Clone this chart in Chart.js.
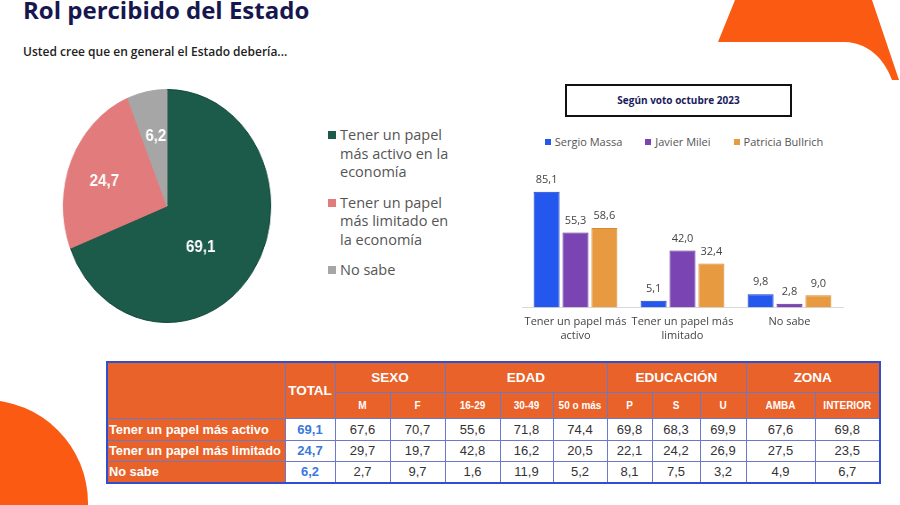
<!DOCTYPE html>
<html lang="es">
<head>
<meta charset="utf-8">
<title>Rol percibido del Estado</title>
<script src="https://cdn.jsdelivr.net/npm/chart.js@4.4.1/dist/chart.umd.min.js"></script>
<style>
  html, body { margin: 0; padding: 0; background: #fff; }
  body { width: 900px; height: 505px; position: relative; overflow: hidden; font-family: "Open Sans", sans-serif; }
  .deco { position: absolute; left: 0; top: 0; }
  h1 { position: absolute; left: 23px; top: -2px; margin: 0; font-size: 24px; line-height: 24px; font-weight: 700; color: #17174f; }
  .sub { position: absolute; left: 23px; top: 46px; font-size: 12px; line-height: 12px; font-weight: 600; color: #222; }
  #pieWrap { position: absolute; left: 50px; top: 89px; width: 234px; height: 234px; transform: scaleX(0.89); }
  #pieLegend { position: absolute; left: 328px; top: 126px; font-size: 14.5px; line-height: 18.5px; color: #555; }
  #pieLegend .item { position: relative; padding-left: 12px; margin-bottom: 12px; }
  #pieLegend .mark { position: absolute; left: 0; top: 5px; width: 8px; height: 8px; }
  .boxTitle { position: absolute; left: 565px; top: 84px; width: 227px; height: 33px; box-sizing: border-box; border: 2px solid #111;
    font-size: 10px; font-weight: 700; color: #1b1b5e; text-align: center; line-height: 29px; }
  #barLegend { position: absolute; left: 500px; top: 134px; width: 368px; display: flex; justify-content: center; gap: 23px;
    font-size: 11px; line-height: 16px; color: #555; }
  #barLegend .mark { display: inline-block; width: 6px; height: 6px; margin-right: 4px; vertical-align: 1px; }
  #barWrap { position: absolute; left: 500px; top: 158px; width: 365px; height: 192px; }
  #tbl { position: absolute; left: 106px; top: 361px; border-collapse: collapse; table-layout: fixed; border: 2px solid #2f4fd0;
    font-family: "Liberation Sans", Arial, sans-serif; }
  #tbl th, #tbl td { border: 1px solid #6a78c6; padding: 0; text-align: center; white-space: nowrap; overflow: hidden; }
  #tbl th { background: #e8622a; color: #fff; font-weight: 700; }
  #tbl th.grp { font-size: 13.5px; }
  #tbl th.sub2 { font-size: 10px; }
  #tbl td { font-size: 13px; color: #333; background: #fff; }
  #tbl td.rowLabel { background: #e8622a; color: #fff; font-weight: 700; font-size: 12.8px; text-align: left; padding-left: 1px; }
  #tbl td.total { color: #3a78dc; font-weight: 700; }
</style>
</head>
<body>

<svg class="deco" width="900" height="505">
  <path d="M718,42 L735,0 L872,0 L899,80 L892,80 C884,58 868,43 845,42 Z" fill="#fa5a12"/>
  <circle cx="-15" cy="503" r="103" fill="#fa5a12"/>
</svg>

<h1>Rol percibido del Estado</h1>
<div class="sub">Usted cree que en general el Estado debería...</div>

<div id="pieWrap"><canvas id="pieChart"></canvas></div>
<div id="pieLegend"></div>

<div class="boxTitle">Según voto octubre 2023</div>
<div id="barLegend"></div>
<div id="barWrap"><canvas id="barChart"></canvas></div>

<table id="tbl"></table>

<script>
// Pie data
const pieLabels = [
  ['Tener un papel', 'más activo en la', 'economía'],
  ['Tener un papel', 'más limitado en', 'la economía'],
  ['No sabe']
];
const pieValues = [69.1, 24.7, 6.2];
const pieColors = ['#1c5a4a', '#e27b7b', '#a6a6a6'];

// Bar data (según voto octubre 2023)
const voteCategories = [['Tener un papel más', 'activo'], ['Tener un papel más', 'limitado'], 'No sabe'];
const massaValues = [85.1, 5.1, 9.8];
const mileiValues = [55.3, 42.0, 2.8];
const bullrichValues = [58.6, 32.4, 9.0];

// Table data
const tableRows = ['Tener un papel más activo', 'Tener un papel más limitado', 'No sabe'];
const tableGroups = ['SEXO', 'EDAD', 'EDUCACIÓN', 'ZONA'];
const groupSpans = [2, 3, 3, 2];
const tableCols = ['M', 'F', '16-29', '30-49', '50 o más', 'P', 'S', 'U', 'AMBA', 'INTERIOR'];
const totalCol = [69.1, 24.7, 6.2];
const activoRow = [67.6, 70.7, 55.6, 71.8, 74.4, 69.8, 68.3, 69.9, 67.6, 69.8];
const limitadoRow = [29.7, 19.7, 42.8, 16.2, 20.5, 22.1, 24.2, 26.9, 27.5, 23.5];
const noSabeRow = [2.7, 9.7, 1.6, 11.9, 5.2, 8.1, 7.5, 3.2, 4.9, 6.7];

// Comma decimals like the original
function fmt(v) {
  return v.toFixed(1).replace('.', ',');
}

Chart.defaults.font.family = "'Open Sans', sans-serif";
Chart.defaults.animation = false;

// White value labels inside the slices
const pieValueLabels = {
  id: 'pieValueLabels',
  afterDatasetsDraw(chart, args, opts) {
    const ctx = chart.ctx;
    const meta = chart.getDatasetMeta(0);
    ctx.save();
    ctx.font = opts.font;
    ctx.fillStyle = '#fff';
    ctx.textAlign = 'center';
    ctx.textBaseline = 'middle';
    meta.data.forEach((arc, i) => {
      const p = arc.getProps(['x', 'y', 'startAngle', 'endAngle', 'outerRadius'], true);
      const mid = (p.startAngle + p.endAngle) / 2 + (opts.shift[i] || 0) * Math.PI / 180;
      const r = p.outerRadius * opts.dist[i];
      ctx.fillText(fmt(chart.data.datasets[0].data[i]), p.x + Math.cos(mid) * r, p.y + Math.sin(mid) * r);
    });
    ctx.restore();
  }
};

// Value labels over the bars
const barValueLabels = {
  id: 'barValueLabels',
  afterDatasetsDraw(chart) {
    const ctx = chart.ctx;
    ctx.save();
    ctx.font = "11px 'Open Sans'";
    ctx.fillStyle = '#444';
    ctx.textAlign = 'center';
    ctx.textBaseline = 'middle';
    chart.data.datasets.forEach((ds, di) => {
      chart.getDatasetMeta(di).data.forEach((bar, i) => {
        ctx.fillText(fmt(ds.data[i]), bar.x, bar.y - 12);
      });
    });
    ctx.restore();
  }
};

new Chart(document.getElementById('pieChart'), {
  type: 'pie',
  data: {
    labels: pieLabels.map(l => l.join(' ')),
    datasets: [{
      data: pieValues,
      backgroundColor: pieColors,
      borderColor: ['#12463a', '#e27b7b', '#a6a6a6'],
      borderWidth: 1
    }]
  },
  options: {
    responsive: true,
    maintainAspectRatio: false,
    plugins: {
      legend: { display: false },
      tooltip: { enabled: false },
      pieValueLabels: { font: "bold 17px 'Liberation Sans'", dist: [0.48, 0.64, 0.61], shift: [13, -4, 1] }
    }
  },
  plugins: [pieValueLabels]
});

// HTML legend for the pie (multi-line items)
const pieLegend = document.getElementById('pieLegend');
pieLabels.forEach((lines, i) => {
  const div = document.createElement('div');
  div.className = 'item';
  div.innerHTML = `<span class="mark" style="background:${pieColors[i]}"></span>${lines.join('<br>')}`;
  pieLegend.appendChild(div);
});

const barChart = new Chart(document.getElementById('barChart'), {
  type: 'bar',
  data: {
    labels: voteCategories,
    datasets: [
      { label: 'Sergio Massa', data: massaValues, backgroundColor: '#2457ee', borderColor: '#1a3cc0', borderWidth: 1 },
      { label: 'Javier Milei', data: mileiValues, backgroundColor: '#7a45b2', borderColor: '#5a2a92', borderWidth: 1 },
      { label: 'Patricia Bullrich', data: bullrichValues, backgroundColor: '#e89a40', borderColor: '#d8882e', borderWidth: 1 }
    ]
  },
  options: {
    responsive: true,
    maintainAspectRatio: false,
    datasets: { bar: { categoryPercentage: 0.81, barPercentage: 0.9 } },
    layout: { padding: { left: 22, right: 22, top: 0 } },
    plugins: {
      legend: { display: false },
      tooltip: { enabled: false }
    },
    scales: {
      x: {
        grid: { display: false, drawTicks: false },
        border: { color: '#d9d9d9' },
        ticks: { padding: 8, color: '#444', font: { size: 11 }, maxRotation: 0, minRotation: 0, autoSkip: false }
      },
      y: { display: false, min: 0, max: 110 }
    }
  },
  plugins: [barValueLabels]
});

// Legend for the bars, one row like the original
const barLegend = document.getElementById('barLegend');
barChart.data.datasets.forEach(ds => {
  const span = document.createElement('span');
  span.innerHTML = `<span class="mark" style="background:${ds.backgroundColor}"></span>${ds.label}`;
  barLegend.appendChild(span);
});

// Build the crosstab table
const colWidths = [178, 50, 55, 55, 55, 53, 54, 45, 48, 46, 69, 65];
const rowData = [activoRow, limitadoRow, noSabeRow];
const tbl = document.getElementById('tbl');
let html = '<colgroup>' + colWidths.map(w => `<col style="width:${w}px">`).join('') + '</colgroup>';
html += '<tr style="height:30px"><th rowspan="2"></th><th rowspan="2" class="grp">TOTAL</th>';
tableGroups.forEach((g, i) => { html += `<th class="grp" colspan="${groupSpans[i]}">${g}</th>`; });
html += '</tr><tr style="height:26px">';
tableCols.forEach(c => { html += `<th class="sub2">${c}</th>`; });
html += '</tr>';
tableRows.forEach((r, i) => {
  html += `<tr style="height:${i === 1 ? 21 : 22}px"><td class="rowLabel">${r}</td><td class="total">${fmt(totalCol[i])}</td>`;
  rowData[i].forEach(v => { html += `<td>${fmt(v)}</td>`; });
  html += '</tr>';
});
tbl.innerHTML = html;
</script>
</body>
</html>
